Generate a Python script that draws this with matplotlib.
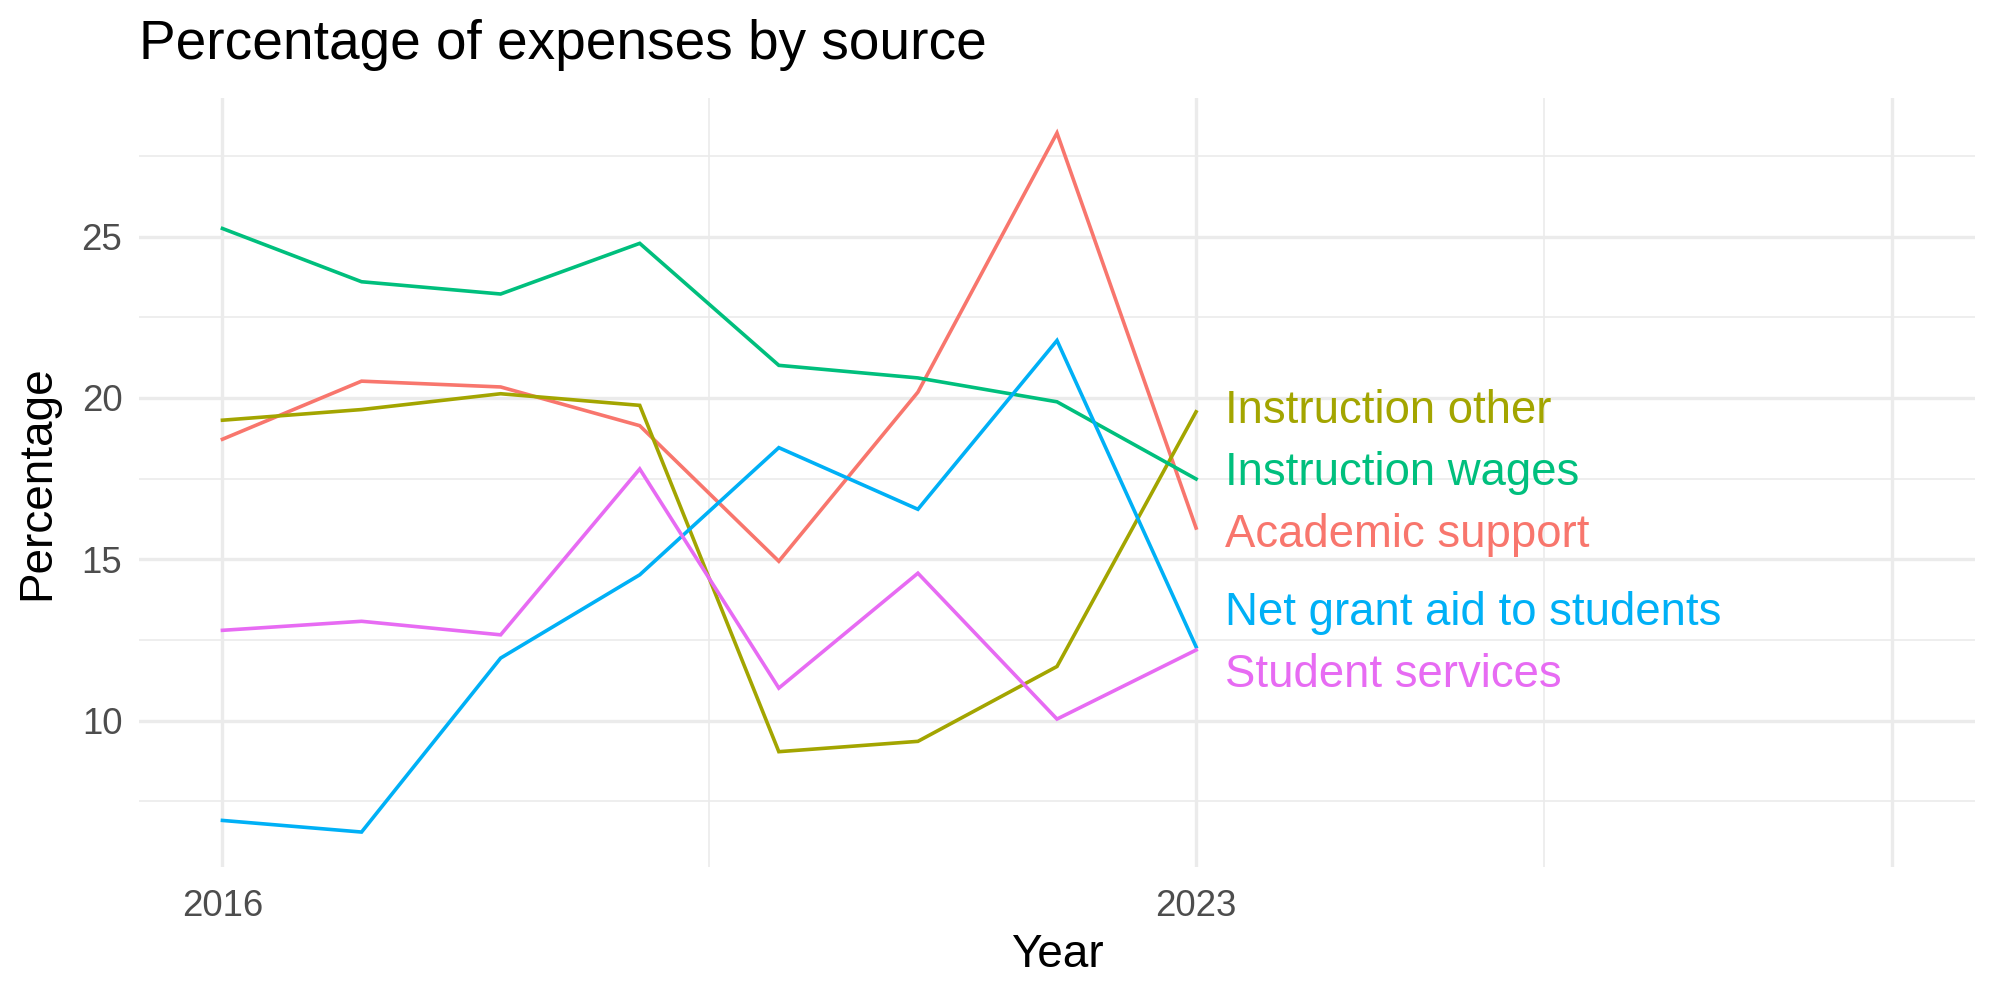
import matplotlib
matplotlib.use("Agg")
import matplotlib.pyplot as plt
import numpy as np

years = [2016, 2017, 2018, 2019, 2020, 2021, 2022, 2023]
series_names = ["Academic support", "Instruction other", "Instruction wages",
                "Net grant aid to students", "Student services"]
academic_support = [18.72, 20.52, 20.34, 19.14, 14.94, 20.18, 28.21, 15.97]
instruction_other = [19.31, 19.64, 20.13, 19.77, 9.04, 9.36, 11.68, 19.57]
instruction_wages = [25.25, 23.60, 23.22, 24.79, 21.01, 20.62, 19.88, 17.49]
net_grant_aid = [6.91, 6.55, 11.94, 14.52, 18.46, 16.55, 21.78, 12.29]
student_services = [12.80, 13.08, 12.66, 17.80, 11.01, 14.57, 10.05, 12.19]
label_y = [15.75, 19.60, 17.68, 13.35, 11.42]   # repelled label positions
colors = ["#F8766D", "#A3A500", "#00BF7D", "#00B0F6", "#E76BF3"]
x_breaks = [2016, 2023, 2028]
x_labels = ["2016", "2023", ""]
x_minor = [2019.5, 2025.5]
y_breaks = [10, 15, 20, 25]
y_minor = [7.5, 12.5, 17.5, 22.5, 27.5]

all_series = [academic_support, instruction_other, instruction_wages,
              net_grant_aid, student_services]

plt.rcParams['font.family'] = ['Liberation Sans', 'DejaVu Sans']

fig = plt.figure(figsize=(10, 5), dpi=200)
ax = fig.add_axes([0.0695, 0.133, 0.918, 0.769])

for name, vals, col, ly in zip(series_names, all_series, colors, label_y):
    ax.plot(years, vals, color=col, lw=1.3, solid_joinstyle='miter', zorder=3)
    ax.text(years[-1] + 0.21, ly, name, color=col, fontsize=16.4,
            va='center', ha='left', zorder=4)

# limits with ggplot-like 5% expansion
xmin, xmax = 2016, 2028
xr = xmax - xmin
ax.set_xlim(xmin - 0.05 * xr, xmax + 0.05 * xr)
vals_all = np.concatenate([np.array(s) for s in all_series])
ymin, ymax = vals_all.min(), vals_all.max()
yr = ymax - ymin
ax.set_ylim(ymin - 0.05 * yr, ymax + 0.05 * yr)

ax.set_xticks(x_breaks)
ax.set_xticklabels(x_labels)
ax.set_xticks(x_minor, minor=True)
ax.set_yticks(y_breaks)
ax.set_yticks(y_minor, minor=True)

ax.grid(which='major', color='#EBEBEB', lw=1.2)
ax.grid(which='minor', color='#EBEBEB', lw=0.6)
ax.set_axisbelow(True)
for s in ax.spines.values():
    s.set_visible(False)
ax.tick_params(which='both', length=0)
ax.tick_params(axis='both', labelsize=13.2, labelcolor='#4D4D4D')
ax.tick_params(axis='x', pad=8)
ax.tick_params(axis='y', pad=6)

ax.set_xlabel("Year", fontsize=16.5, color='black', labelpad=3)
ax.set_ylabel("Percentage", fontsize=16.5, color='black', labelpad=8)
fig.text(0.0695, 0.955, "Percentage of expenses by source", fontsize=19.8,
         ha='left', va='center', color='black')

fig.savefig("out.png", dpi=200, facecolor='white')
